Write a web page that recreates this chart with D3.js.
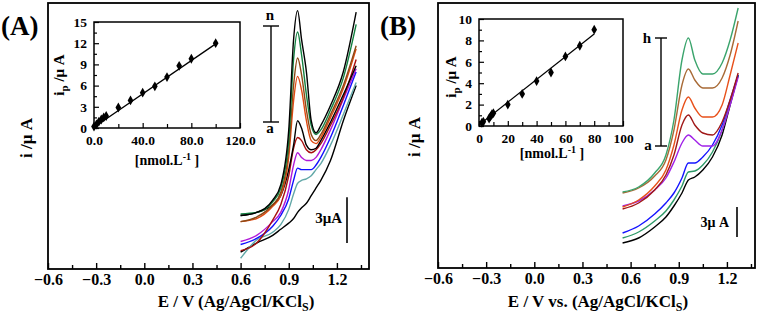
<!DOCTYPE html>
<html>
<head>
<meta charset="utf-8">
<script src="https://cdn.jsdelivr.net/npm/d3@7"></script>
<style>
  body { margin: 0; background: #fff; }
  text { font-family: "Liberation Serif", "Times New Roman", serif; font-weight: bold; fill: #000; }
</style>
</head>
<body>
<div id="chart"></div>
<script>
var potA = [0.6, 0.7, 0.8, 0.85, 0.9, 0.93, 0.955, 0.98, 1.01, 1.04, 1.07, 1.1, 1.16, 1.24, 1.32];
var potB = [0.55, 0.65, 0.75, 0.82, 0.87, 0.92, 0.96, 1.0, 1.05, 1.11, 1.17, 1.22, 1.27];

// panel A currents (uA, arbitrary offset), curve a .. top
var curveA_a = [1.1, 1.7, 2.2, 2.6, 3.0, 3.3, 3.7, 4.0, 4.3, 4.8, 5.3, 5.8, 7.1, 9.7, 12.0];
var curveA_b = [0.7, 1.9, 2.4, 2.9, 3.9, 4.9, 5.6, 5.8, 5.9, 6.1, 6.5, 6.9, 8.1, 10.1, 12.2];
var curveA_c = [1.6, 2.0, 2.8, 3.5, 4.6, 5.8, 6.6, 6.5, 6.5, 6.5, 6.8, 7.3, 8.6, 10.7, 12.9];
var curveA_d = [1.8, 2.2, 3.1, 3.7, 5.2, 6.8, 7.6, 7.3, 7.1, 7.1, 7.3, 7.8, 9.1, 11.1, 13.1];
var curveA_e = [1.2, 1.7, 3.2, 4.2, 6.1, 7.9, 8.6, 8.4, 7.8, 7.6, 7.8, 8.2, 9.4, 11.2, 13.7];
var curveA_f = [3.5, 3.7, 4.2, 4.8, 6.5, 8.1, 9.7, 9.2, 8.1, 7.8, 7.9, 8.4, 9.6, 11.4, 13.3];
var curveA_g = [3.1, 3.3, 4.1, 4.8, 7.3, 11.0, 12.6, 11.7, 9.7, 8.4, 8.2, 8.6, 9.9, 11.8, 14.4];
var curveA_h = [3.1, 3.4, 4.2, 5.0, 7.8, 12.0, 13.8, 12.7, 10.4, 8.8, 8.4, 8.8, 10.1, 12.0, 14.6];
var curveA_i = [3.6, 3.7, 4.4, 5.3, 8.4, 13.7, 15.5, 14.0, 11.4, 9.4, 8.8, 9.1, 10.4, 12.5, 16.0];
var curveA_j = [3.5, 3.7, 4.5, 5.5, 9.1, 15.0, 16.9, 15.0, 12.9, 9.7, 8.9, 9.4, 10.7, 12.9, 16.8];
var colorsA = ["#000000", "#62a8a8", "#1010ff", "#b018d8", "#a81010", "#000000", "#e04a12", "#8a4a16", "#138040", "#000000"];

// panel B currents (uA, arbitrary offset), curve a .. h
var curveB_a = [2.5, 3.0, 4.1, 5.1, 6.2, 7.5, 8.8, 9.1, 9.8, 11.1, 13.3, 16.3, 19.3];
var curveB_b = [3.0, 3.6, 4.7, 5.7, 6.8, 8.2, 9.6, 9.7, 10.3, 11.6, 13.8, 16.5, 19.3];
var curveB_c = [3.5, 4.2, 5.4, 6.5, 7.5, 9.0, 10.5, 10.5, 11.1, 12.3, 14.3, 16.8, 19.3];
var curveB_d = [6.2, 6.7, 7.8, 9.0, 10.6, 12.5, 13.3, 12.8, 12.2, 12.2, 13.8, 16.3, 19.1];
var curveB_e = [5.9, 6.5, 7.8, 9.3, 11.3, 14.3, 15.3, 14.3, 13.5, 13.3, 14.6, 16.8, 19.5];
var curveB_f = [6.1, 6.8, 8.2, 9.8, 12.3, 15.8, 17.1, 16.0, 15.1, 15.1, 16.3, 19.3, 22.5];
var curveB_g = [7.5, 8.0, 9.2, 10.8, 13.8, 18.3, 19.9, 18.8, 18.0, 18.0, 19.0, 21.3, 24.7];
var curveB_h = [7.6, 8.1, 9.5, 11.3, 14.8, 20.8, 23.0, 20.8, 19.4, 19.4, 20.5, 22.8, 26.0];
var colorsB = ["#000000", "#2e9a68", "#1414ff", "#a020e8", "#a01818", "#e8501a", "#a86a36", "#3aa46c"];

// calibration insets
var concA = [0, 2, 4, 6, 8, 10, 20, 30, 40, 50, 60, 70, 80, 100];
var ipA = [0.2, 0.5, 0.9, 1.2, 1.5, 1.7, 2.9, 3.9, 5.0, 5.9, 7.2, 8.8, 9.8, 12.0];
var fitA = [[0, 0.1], [100, 11.9]];
var concB = [2, 3, 7, 8, 9, 10, 20, 30, 40, 50, 60, 70, 80];
var ipB = [0.3, 0.4, 0.7, 0.9, 1.1, 1.2, 2.0, 3.0, 4.2, 5.0, 6.5, 7.5, 9.0];
var fitB = [[0, 0.1], [80, 8.6]];

// tick values
var eTicks = [-0.6, -0.3, 0.0, 0.3, 0.6, 0.9, 1.2];
var eMinor = [-0.45, -0.15, 0.15, 0.45, 0.75, 1.05, 1.35];
var insetAx = [0, 40, 80, 120], insetAxMinor = [20, 60, 100];
var insetAy = [0, 3, 6, 9, 12, 15], insetAyMinor = [1.5, 4.5, 7.5, 10.5, 13.5];
var insetBx = [0, 20, 40, 60, 80, 100], insetBxMinor = [10, 30, 50, 70, 90];
var insetBy = [0, 2, 4, 6, 8, 10], insetByMinor = [1, 3, 5, 7, 9];

var svg = d3.select("#chart").append("svg")
  .attr("width", 761).attr("height", 322);

function frame(g, l, t, r, b, w) {
  g.append("rect")
    .attr("x", l).attr("y", t).attr("width", r - l).attr("height", b - t)
    .attr("fill", "none").attr("stroke", "#000").attr("stroke-width", w);
}

function drawPanel(p) {
  var x = d3.scaleLinear().domain(p.xDomain).range([p.left, p.right]);
  var y = d3.scaleLinear().domain([0, p.yMax]).range([p.bottom, p.top]);
  var g = svg.append("g");

  // minor + major ticks, pointing inward
  g.append("g").attr("transform", "translate(0," + p.bottom + ")")
    .call(d3.axisBottom(x).tickValues(eMinor).tickSize(-4).tickFormat(""))
    .call(a => a.select(".domain").remove());
  g.append("g").attr("transform", "translate(0," + p.bottom + ")")
    .call(d3.axisBottom(x).tickValues(eTicks).tickSize(-6).tickPadding(5).tickFormat(d3.format(".1f")))
    .call(a => a.select(".domain").remove())
    .call(a => a.selectAll("text").style("font-size", "16px").style("font-family", null));
  g.selectAll(".tick line").attr("stroke-width", 1.4);
  frame(g, p.left, p.top, p.right, p.bottom, 1.8);

  // voltammograms
  var line = d3.line()
    .x((d, i) => x(p.pot[i]))
    .y(d => y(d))
    .curve(d3.curveMonotoneX);
  g.selectAll(".cv").data(p.curves).enter().append("path")
    .attr("d", line)
    .attr("fill", "none")
    .attr("stroke", (d, i) => p.colors[i])
    .attr("stroke-width", 1.4);

  // labels
  g.append("text").attr("x", p.labelX).attr("y", 35).style("font-size", "27px").text(p.label);
  g.append("text")
    .attr("transform", "translate(" + p.yTitle[0] + "," + p.yTitle[1] + ") rotate(-90)")
    .attr("text-anchor", "middle").style("font-size", "17px").text("i /\u03bc A");
  var xt = g.append("text").attr("x", p.xTitle[0]).attr("y", 307)
    .attr("text-anchor", "middle").style("font-size", "17px");
  xt.append("tspan").text(p.xTitleText);
  xt.append("tspan").attr("dy", 4).style("font-size", "12px").text("S");
  xt.append("tspan").attr("dy", -4).text(")");

  // a..n bracket
  var br = p.bracket;
  g.append("line").attr("x1", br.x).attr("x2", br.x).attr("y1", br.top).attr("y2", br.bot)
    .attr("stroke", "#000").attr("stroke-width", 1.4);
  [br.top, br.bot].forEach(function(v) {
    g.append("line").attr("x1", br.x - br.w).attr("x2", br.x + br.w).attr("y1", v).attr("y2", v)
      .attr("stroke", "#000").attr("stroke-width", 1.4);
  });
  g.append("text").attr("x", br.tx[0]).attr("y", br.tx[1]).attr("text-anchor", "middle")
    .style("font-size", "15px").text(br.hi);
  g.append("text").attr("x", br.bx[0]).attr("y", br.bx[1]).attr("text-anchor", "middle")
    .style("font-size", "15px").text("a");

  // 3 uA scale bar
  var sb = p.scale;
  g.append("line").attr("x1", sb.x).attr("x2", sb.x)
    .attr("y1", y(sb.from)).attr("y2", y(sb.from + 3))
    .attr("stroke", "#000").attr("stroke-width", 1.6);
  g.append("text").attr("x", sb.tx).attr("y", sb.ty).attr("text-anchor", "end")
    .style("font-size", sb.fs).text(sb.text);
}

function drawInset(q) {
  var x = d3.scaleLinear().domain(q.xDomain).range([q.left, q.right]);
  var y = d3.scaleLinear().domain(q.yDomain).range([q.bottom, q.top]);
  var g = svg.append("g");

  g.append("g").attr("transform", "translate(0," + q.bottom + ")")
    .call(d3.axisBottom(x).tickValues(q.xMinor).tickSize(-4).tickFormat(""))
    .call(a => a.select(".domain").remove());
  g.append("g").attr("transform", "translate(0," + q.bottom + ")")
    .call(d3.axisBottom(x).tickValues(q.xTicks).tickSize(-5).tickPadding(7).tickFormat(q.xFmt))
    .call(a => a.select(".domain").remove())
    .call(a => a.selectAll("text").style("font-size", "13.5px").style("font-family", null));
  g.append("g").attr("transform", "translate(" + q.left + ",0)")
    .call(d3.axisLeft(y).tickValues(q.yMinor).tickSize(-3).tickFormat(""))
    .call(a => a.select(".domain").remove());
  g.append("g").attr("transform", "translate(" + q.left + ",0)")
    .call(d3.axisLeft(y).tickValues(q.yTicks).tickSize(-5).tickPadding(7).tickFormat(d3.format("d")))
    .call(a => a.select(".domain").remove())
    .call(a => a.selectAll("text").style("font-size", "13.5px").style("font-family", null));
  g.selectAll(".tick line").attr("stroke-width", 1.2);
  frame(g, q.left, q.top, q.right, q.bottom, 1.5);

  g.append("line")
    .attr("x1", x(q.fit[0][0])).attr("y1", y(q.fit[0][1]))
    .attr("x2", x(q.fit[1][0])).attr("y2", y(q.fit[1][1]))
    .attr("stroke", "#000").attr("stroke-width", 1.3);
  g.selectAll(".pt").data(q.conc).enter().append("path")
    .attr("transform", (d, i) => "translate(" + x(d) + "," + y(q.ip[i]) + ")")
    .attr("d", d3.symbol().type(d3.symbolDiamond).size(28))
    .attr("fill", "#000");

  var yl = g.append("text")
    .attr("transform", "translate(" + q.yTitle[0] + "," + q.yTitle[1] + ") rotate(-90)")
    .attr("text-anchor", "middle").style("font-size", "15px");
  yl.append("tspan").text("i");
  yl.append("tspan").attr("dy", 4).style("font-size", "11px").text("p");
  yl.append("tspan").attr("dy", -4).text(" /\u03bc A");

  var xl = g.append("text").attr("x", q.xTitle[0]).attr("y", q.xTitle[1])
    .attr("text-anchor", "middle").style("font-size", "14px");
  xl.append("tspan").text("[nmol.L");
  xl.append("tspan").attr("dy", -5).style("font-size", "10px").text("-1");
  xl.append("tspan").attr("dy", 5).text("  ]");
}

drawPanel({
  left: 48, right: 369, top: 3, bottom: 269,
  xDomain: [-0.6, 1.4], yMax: 17.4,
  pot: potA,
  curves: [curveA_a, curveA_b, curveA_c, curveA_d, curveA_e, curveA_f, curveA_g, curveA_h, curveA_i, curveA_j],
  colors: colorsA,
  label: "(A)", labelX: 1,
  yTitle: [32, 138],
  xTitle: [236, 0], xTitleText: "E / V (Ag/AgCl/KCl",
  bracket: {x: 271, top: 26, bot: 122, w: 8, hi: "n", tx: [270, 20], bx: [270, 133]},
  scale: {x: 347, from: 1.7, tx: 342, ty: 223, fs: "15px", text: "3\u03bcA"}
});

drawPanel({
  left: 438, right: 755, top: 3, bottom: 268,
  xDomain: [-0.6, 1.375], yMax: 26.5,
  pot: potB,
  curves: [curveB_a, curveB_b, curveB_c, curveB_d, curveB_e, curveB_f, curveB_g, curveB_h],
  colors: colorsB,
  label: "(B)", labelX: 380,
  yTitle: [420, 137],
  xTitle: [598, 0], xTitleText: "E / V vs. (Ag/AgCl/KCl",
  bracket: {x: 661, top: 38, bot: 146, w: 6, hi: "h", tx: [647, 43], bx: [648, 150]},
  scale: {x: 737, from: 3.1, tx: 729, ty: 227, fs: "14px", text: "3\u03bc A"}
});

drawInset({
  left: 94, right: 240, top: 22, bottom: 128,
  xDomain: [0, 120], yDomain: [0, 15],
  xTicks: insetAx, xMinor: insetAxMinor, yTicks: insetAy, yMinor: insetAyMinor,
  xFmt: d3.format(".1f"),
  conc: concA, ip: ipA, fit: fitA,
  yTitle: [64, 75], xTitle: [167, 165]
});

drawInset({
  left: 479, right: 623, top: 19, bottom: 126,
  xDomain: [0, 100], yDomain: [0, 10],
  xTicks: insetBx, xMinor: insetBxMinor, yTicks: insetBy, yMinor: insetByMinor,
  xFmt: d3.format("d"),
  conc: concB, ip: ipB, fit: fitB,
  yTitle: [456, 77], xTitle: [552, 158]
});
</script>
</body>
</html>
